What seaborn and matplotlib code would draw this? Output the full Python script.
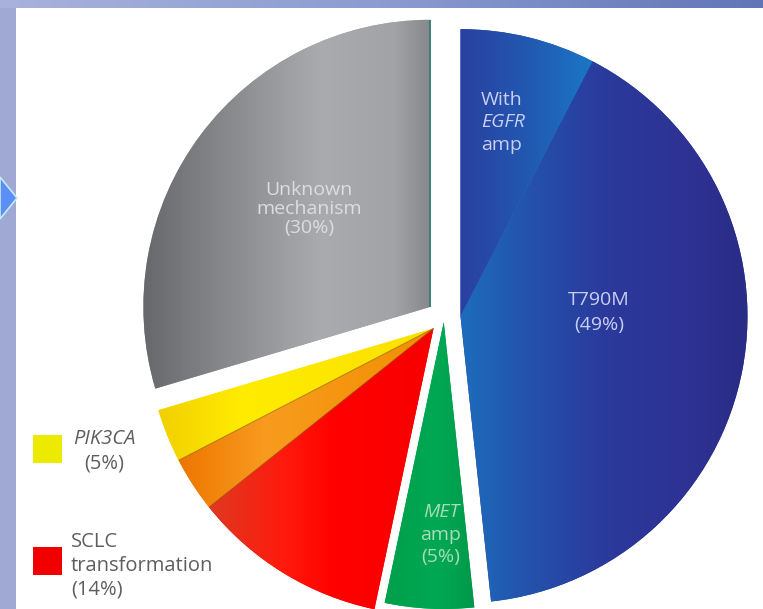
import numpy as np
import matplotlib
matplotlib.use("Agg")
import matplotlib.pyplot as plt
import seaborn as sns
from matplotlib.colors import LinearSegmentedColormap
from matplotlib.patches import Polygon, Rectangle

# ---------------- data ----------------
categories = ["Unknown mechanism", "PIK3CA", "PIK3CA (other)", "SCLC transformation",
              "MET amp", "T790M", "With EGFR amp"]
shares = [29.6, 3.0, 3.1, 11.0, 5.0, 40.7, 7.6]
groups = [0, 1, 1, 1, 2, 3, 3]                             # slices that move together
label_pct = {"Unknown mechanism": "(30%)", "PIK3CA": "(5%)",
             "SCLC transformation": "(14%)", "MET amp": "(5%)", "T790M": "(49%)"}

# ---------------- style ----------------
W, H = 763, 609
sns.set_theme(style="white")
plt.rcParams["font.family"] = ["Open Sans", "DejaVu Sans"]

base_colors = ["#9a9c9f", "#fde600", "#f6921e", "#ff0000", "#00a651", "#2b3a9c", "#1f5fb2"]
gradients = [
    [(145, "#68696c"), (215, "#848588"), (320, "#a9abae"), (395, "#a1a3a6"), (432, "#85878a")],
    [(150, "#f1cc00"), (240, "#ffec00"), (432, "#fbe000")],
    [(175, "#ee7400"), (265, "#f89b1e"), (432, "#f29000")],
    [(205, "#de3a22"), (285, "#ff1a0c"), (335, "#ff0000"), (432, "#f80000")],
    [(390, "#00a04c"), (440, "#00a854"), (485, "#009446")],
    [(462, "#1d6cbd"), (525, "#2354ad"), (605, "#2b3a9c"), (700, "#2e3192"), (752, "#292b84")],
    [(458, "#2a3f9f"), (530, "#2159b1"), (598, "#1a78c8")],
]
group_offset = {0: 17.0, 1: 15.5, 2: 5.0, 3: 16.5}
R = 287
C = (444, H - 317)

fig = plt.figure(figsize=(W / 100, H / 100), dpi=100)
fig.patch.set_facecolor("white")
ax = fig.add_axes([0, 0, 1, 1])

# background frame (slide border)
top_cmap = LinearSegmentedColormap.from_list("top", ["#a9b2db", "#8c9bd0", "#6275b6"])
ax.imshow(np.linspace(0, 1, 256)[None, :], cmap=top_cmap, extent=[0, W, H - 8, H],
          aspect="auto", zorder=0)
ax.add_patch(Rectangle((0, 0), 16, H - 8, facecolor="#9fa9d4", edgecolor="none", zorder=0))
ax.add_patch(Polygon([(0, H - 177), (17, H - 198), (0, H - 219)], closed=True,
                     facecolor="#5b8ef7", edgecolor="#c4ecf2", linewidth=1.2, zorder=1))

# pie
wedges, _ = ax.pie(shares, startangle=90, counterclock=True, radius=R, center=C,
                   colors=base_colors, wedgeprops=dict(linewidth=0))

# move groups together along the group's bisector
for g, d in group_offset.items():
    idx = [i for i, gg in enumerate(groups) if gg == g]
    t1 = wedges[idx[0]].theta1
    t2 = wedges[idx[-1]].theta2
    mid = np.deg2rad((t1 + t2) / 2)
    for i in idx:
        wedges[i].set_center((C[0] + d * np.cos(mid), C[1] + d * np.sin(mid)))

# gradient fills clipped to each wedge
for w, stops in zip(wedges, gradients):
    xs = np.array([s[0] for s in stops], float)
    pos = xs / W
    cmap = LinearSegmentedColormap.from_list(
        "g", [(0.0, stops[0][1])] + [(p, c) for p, (_, c) in zip(pos, stops)] + [(1.0, stops[-1][1])])
    im = ax.imshow(np.linspace(0, 1, 763)[None, :], cmap=cmap, extent=[0, W, 0, H],
                   aspect="auto", zorder=2, interpolation="bilinear")
    im.set_clip_path(w)
    w.set_zorder(1.5)

# thin separators within the yellow/orange/red group and the teal rim on the gray slice
for i in (1, 2):
    w = wedges[i]
    th = np.deg2rad(w.theta2)
    cx, cy = w.center
    ax.plot([cx, cx + R * np.cos(th)], [cy, cy + R * np.sin(th)], color="#8a6410",
            lw=0.7, alpha=0.6, zorder=3, solid_capstyle="butt")
wg = wedges[0]
th = np.deg2rad(wg.theta1)
ax.plot([wg.center[0], wg.center[0] + R * np.cos(th)], [wg.center[1], wg.center[1] + R * np.sin(th)],
        color="#2e7b76", lw=1.2, zorder=3, solid_capstyle="butt")

fs = 14
def T(x, y, s, **kw):
    ax.text(x, H - y, s, fontsize=kw.pop("fontsize", fs), zorder=5, **kw)

# labels inside slices
T(309, 209, "Unknown\nmechanism\n" + label_pct["Unknown mechanism"], ha="center", va="center",
  color="#dcdddf", linespacing=1.1)
blue_txt = "#c8cff2"
T(481, 100, "With", ha="left", va="center", color=blue_txt)
T(481, 122, "EGFR", ha="left", va="center", color=blue_txt, style="italic")
T(481, 145, "amp", ha="left", va="center", color=blue_txt)
T(599, 300, "T790M", ha="center", va="center", color=blue_txt)
T(599, 325, label_pct["T790M"], ha="center", va="center", color=blue_txt)
green_txt = "#a9dcb9"
T(441, 512, "MET", ha="center", va="center", color=green_txt, style="italic")
T(441, 535, "amp", ha="center", va="center", color=green_txt)
T(441, 557, label_pct["MET amp"], ha="center", va="center", color=green_txt)

# legend-like keys
ax.add_patch(Rectangle((33, H - 463), 29, 28, facecolor="#ecea00", edgecolor="none", zorder=4))
ax.add_patch(Rectangle((33, H - 575), 29, 28, facecolor="#f20000", edgecolor="none", zorder=4))
leg_txt = "#5e5e5e"
T(104, 439, "PIK3CA", ha="center", va="center", color=leg_txt, style="italic", fontsize=14.5)
T(104, 464, label_pct["PIK3CA"], ha="center", va="center", color=leg_txt, fontsize=14.5)
T(71, 542, "SCLC", ha="left", va="center", color=leg_txt, fontsize=14.5)
T(71, 566, "transformation", ha="left", va="center", color=leg_txt, fontsize=14.5)
T(71, 589, label_pct["SCLC transformation"], ha="left", va="center", color=leg_txt, fontsize=14.5)

ax.set_xlim(0, W)
ax.set_ylim(0, H)
ax.set_aspect("auto")
ax.set_axis_off()

fig.savefig("out.png", dpi=100, facecolor="white")
